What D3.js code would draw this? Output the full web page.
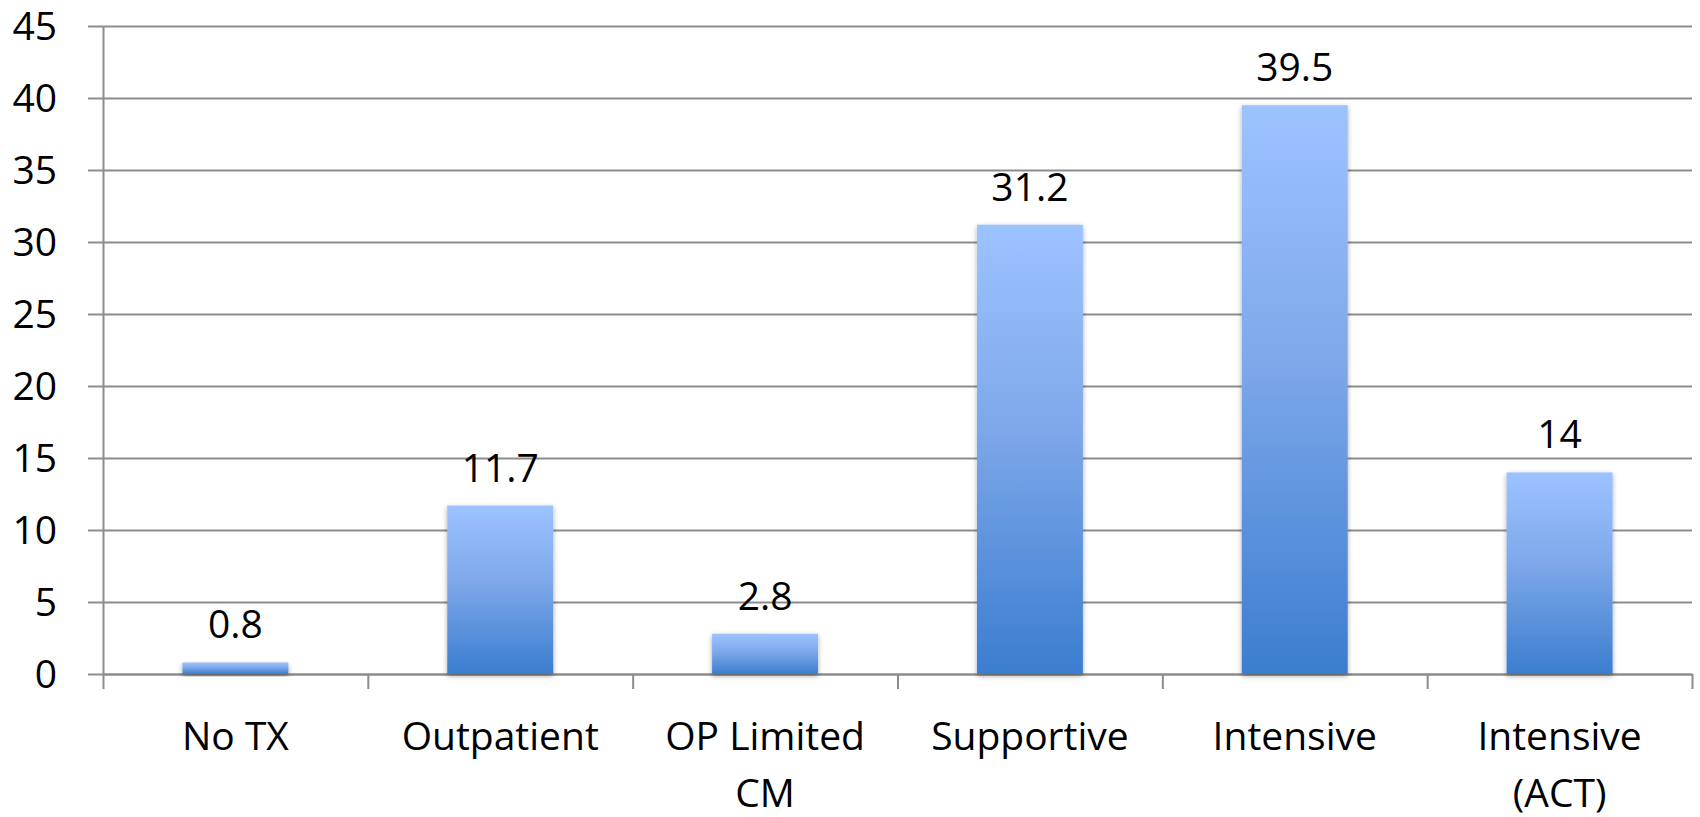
<!DOCTYPE html>
<html>
<head>
<meta charset="utf-8">
<script src="https://cdn.jsdelivr.net/npm/d3@7"></script>
<style>
  html, body { margin: 0; padding: 0; background: #fff; }
  svg { display: block; }
  text { font-family: "Open Sans", Lato, sans-serif; fill: #000; }
</style>
</head>
<body>
<svg id="chart" width="1700" height="817"></svg>
<script>
const categories = [["No TX"], ["Outpatient"], ["OP Limited", "CM"], ["Supportive"], ["Intensive"], ["Intensive", "(ACT)"]];
const values = [0.8, 11.7, 2.8, 31.2, 39.5, 14];
const valueLabels = ["0.8", "11.7", "2.8", "31.2", "39.5", "14"];
const yTicks = [0, 5, 10, 15, 20, 25, 30, 35, 40, 45];

(function () {
const plotL = 103, plotR = 1692, plotT = 26, plotB = 674;
const svg = d3.select("#chart");

const defs = svg.append("defs");
const grad = defs.append("linearGradient").attr("id", "barGrad")
  .attr("x1", 0).attr("y1", 0).attr("x2", 0).attr("y2", 1);
grad.append("stop").attr("offset", "0%").attr("stop-color", "#9dc3ff");
grad.append("stop").attr("offset", "45%").attr("stop-color", "#7ea8ea");
grad.append("stop").attr("offset", "100%").attr("stop-color", "#3b7dcf");
const filt = defs.append("filter").attr("id", "shadow")
  .attr("x", "-10%").attr("y", "-10%").attr("width", "120%").attr("height", "130%");
filt.append("feDropShadow").attr("dx", 0).attr("dy", 2).attr("stdDeviation", 2.5)
  .attr("flood-color", "#000").attr("flood-opacity", 0.35);

const y = d3.scaleLinear().domain([0, 45]).range([plotB, plotT]);
const x = d3.scaleBand().domain(d3.range(categories.length)).range([plotL, plotR])
  .paddingInner(0.6).paddingOuter(0.3);
const xb = d3.scaleLinear().domain([0, categories.length]).range([plotL, plotR]);

// gridlines
const grid = svg.append("g").attr("transform", `translate(${plotL - 15},0)`)
  .call(d3.axisRight(y).tickValues(yTicks).tickSize(plotR - plotL + 15).tickFormat(""));
grid.select(".domain").remove();
grid.selectAll("line").attr("stroke", "#8c8c8c").attr("stroke-width", 2);

// y axis labels + line
const yAxis = svg.append("g").attr("transform", `translate(${plotL},0)`)
  .call(d3.axisLeft(y).tickValues(yTicks).tickSize(0).tickPadding(46));
yAxis.select(".domain").attr("stroke", "#8c8c8c").attr("stroke-width", 2);
yAxis.selectAll("text").attr("font-size", 39).attr("font-family", "Open Sans").attr("fill", "#000").attr("dy", "0.35em");

// x axis ticks
const xAxis = svg.append("g").attr("transform", `translate(0,${plotB})`)
  .call(d3.axisBottom(xb).tickValues(d3.range(categories.length + 1)).tickSize(15).tickSizeOuter(0).tickFormat(""));
xAxis.select(".domain").attr("stroke", "#8c8c8c").attr("stroke-width", 2);
xAxis.selectAll("line").attr("stroke", "#8c8c8c").attr("stroke-width", 2);

// bars
svg.append("g").selectAll("rect").data(values).join("rect")
  .attr("x", (d, i) => x(i))
  .attr("width", x.bandwidth())
  .attr("y", d => y(d))
  .attr("height", d => y(0) - y(d))
  .attr("fill", "url(#barGrad)")
  .attr("filter", "url(#shadow)");

// value labels
svg.append("g").selectAll("text").data(values).join("text")
  .attr("x", (d, i) => x(i) + x.bandwidth() / 2)
  .attr("y", d => y(d) - 24)
  .attr("text-anchor", "middle")
  .attr("font-size", 39)
  .text((d, i) => valueLabels[i]);

// category labels
const cl = svg.append("g").selectAll("text").data(categories).join("text")
  .attr("text-anchor", "middle")
  .attr("font-size", 39);
cl.each(function (lines, i) {
  const t = d3.select(this);
  lines.forEach((ln, j) => {
    t.append("tspan")
      .attr("x", x(i) + x.bandwidth() / 2)
      .attr("y", 750 + j * 57)
      .text(ln);
  });
});
})();
</script>
</body>
</html>
